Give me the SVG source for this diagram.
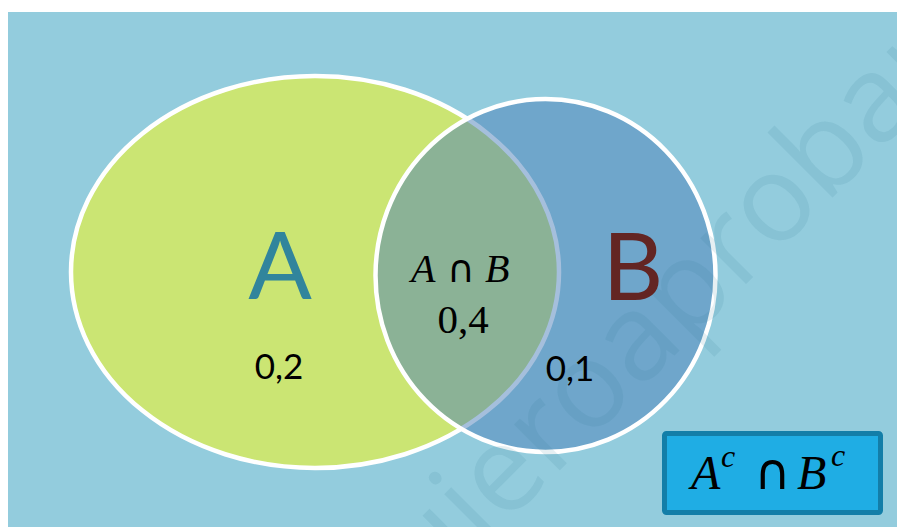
<svg xmlns="http://www.w3.org/2000/svg" width="897" height="527" viewBox="0 0 897 527">
  <style>
    .sans { font-family: Lato, "Open Sans", "Liberation Sans", sans-serif; }
    .math { font-family: "Liberation Serif", "DejaVu Serif", serif; }
    .it { font-style: italic; }
    .cap { font-family: "DejaVu Sans", sans-serif; font-style: normal; }
    .num { font-size: 35px; fill: #000000; text-anchor: middle; }
    .set { stroke: #FFFFFF; stroke-width: 4.5; }
    .wm { font-family: "Open Sans", "Liberation Sans", sans-serif; font-size: 121px; fill: #2E7D93; fill-opacity: 0.12; }
  </style>
  <rect x="0" y="0" width="897" height="527" fill="#FFFFFF"/>
  <rect id="background" x="8" y="12" width="889" height="515" fill="#93CCDD"/>

  <g id="setA">
    <ellipse class="set" cx="315" cy="272" rx="244" ry="196" fill="#CBE573"/>
  </g>
  <g id="setB">
    <ellipse class="set" cx="545.5" cy="275.5" rx="170" ry="176.5" fill="#4B7FB9" fill-opacity="0.5"/>
  </g>

  <text class="wm" transform="translate(378,652) rotate(-45)">quieroaprobar</text>

  <g id="labelA">
    <text class="sans" x="280" y="299" font-size="94" fill="#31859C" text-anchor="middle">A</text>
    <text class="sans num" x="279" y="379">0,2</text>
  </g>
  <g id="intersection">
    <text class="math" y="282" font-size="40" fill="#000000"><tspan class="it" x="411">A</tspan><tspan class="cap" x="447" font-size="38">∩</tspan><tspan class="it" x="485">B</tspan></text>
    <text class="math" x="463" y="333" font-size="41" fill="#000000" text-anchor="middle">0,4</text>
  </g>
  <g id="labelB">
    <text class="sans" x="633" y="300" font-size="94" fill="#632523" text-anchor="middle">B</text>
    <text class="sans num" x="570" y="381">0,1</text>
  </g>

  <g id="complement">
    <rect x="664.5" y="433.5" width="216" height="79" rx="2" fill="#1FADE4" stroke="#137EA8" stroke-width="5"/>
    <text class="math" y="489" font-size="48" fill="#000000"><tspan class="it" x="691">A</tspan><tspan class="it" x="721" y="467" font-size="32">c</tspan><tspan class="cap" x="754" y="489" font-size="50">∩</tspan><tspan class="it" x="797">B</tspan><tspan class="it" x="831" y="466" font-size="32">c</tspan></text>
  </g>

  <g id="connectors"/>
</svg>
